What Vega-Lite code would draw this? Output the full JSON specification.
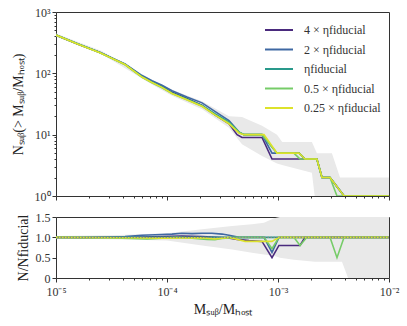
{
 "$schema": "https://vega.github.io/schema/vega-lite/v6.json",
 "padding": {"left": 10, "top": 5, "right": 14, "bottom": 4},
 "spacing": 7,
 "config": {
  "font": "Liberation Serif",
  "view": {"stroke": "#333", "strokeWidth": 1},
  "axis": {"labelFont": "Liberation Serif", "labelFontSize": 12, "labelColor": "#333", "titleFont": "Liberation Serif", "titleFontSize": 14, "titleFontWeight": "normal", "titleColor": "#222", "tickColor": "#333", "domainColor": "#333", "grid": false, "labelPadding": 2, "labelFlush": false, "labelOverlap": false},
  "axisY": {"labelOverlap": false}
 },
 "resolve": {"scale": {"color": "independent"}},
 "datasets": {
  "topband": [
   {"x": 1e-5, "lo": 395, "hi": 445}, {"x": 2.59e-5, "lo": 205, "hi": 232}, {"x": 7.33e-5, "lo": 66, "hi": 78},
   {"x": 1.11e-4, "lo": 43, "hi": 54}, {"x": 2.07e-4, "lo": 26, "hi": 35}, {"x": 3.62e-4, "lo": 13, "hi": 20},
   {"x": 4.74e-4, "lo": 7, "hi": 19.5}, {"x": 7.18e-4, "lo": 4.5, "hi": 14}, {"x": 9.8e-4, "lo": 3.4, "hi": 10},
   {"x": 1.09e-3, "lo": 3.2, "hi": 7.6}, {"x": 2.02e-3, "lo": 2.4, "hi": 7.6}, {"x": 2.24e-3, "lo": 0.5, "hi": 5},
   {"x": 3.06e-3, "lo": 0.5, "hi": 5}, {"x": 3.62e-3, "lo": 0.5, "hi": 2}, {"x": 1e-2, "lo": 0.5, "hi": 2}
  ],
  "botband": [
   {"x": 1e-5, "lo": 0.97, "hi": 1.03}, {"x": 3.2e-5, "lo": 0.95, "hi": 1.05}, {"x": 1e-4, "lo": 0.92, "hi": 1.1},
   {"x": 2.07e-4, "lo": 0.8, "hi": 1.2}, {"x": 3.86e-4, "lo": 0.7, "hi": 1.28}, {"x": 5.83e-4, "lo": 0.62, "hi": 1.32},
   {"x": 7.48e-4, "lo": 0.58, "hi": 1.36}, {"x": 9.2e-4, "lo": 0.55, "hi": 1.47}, {"x": 1.04e-3, "lo": 0.5, "hi": 1.5},
   {"x": 1.39e-3, "lo": 0.45, "hi": 1.5}, {"x": 2.15e-3, "lo": 0.4, "hi": 1.5}, {"x": 3.77e-3, "lo": 0.4, "hi": 1.5},
   {"x": 4.28e-3, "lo": 0, "hi": 1.5}, {"x": 1e-2, "lo": 0, "hi": 1.5}
  ],
  "toplines": [
   {"s": "4 × ηfiducial", "x": 1e-5, "n": 420}, {"s": "4 × ηfiducial", "x": 1.58e-5, "n": 298}, {"s": "4 × ηfiducial", "x": 2.49e-5, "n": 218},
   {"s": "4 × ηfiducial", "x": 4.19e-5, "n": 140}, {"s": "4 × ηfiducial", "x": 5.96e-5, "n": 89}, {"s": "4 × ηfiducial", "x": 7.33e-5, "n": 73},
   {"s": "4 × ηfiducial", "x": 9.02e-5, "n": 61}, {"s": "4 × ηfiducial", "x": 1.11e-4, "n": 49}, {"s": "4 × ηfiducial", "x": 1.51e-4, "n": 39},
   {"s": "4 × ηfiducial", "x": 2.07e-4, "n": 30}, {"s": "4 × ηfiducial", "x": 2.7e-4, "n": 21}, {"s": "4 × ηfiducial", "x": 3.62e-4, "n": 15},
   {"s": "4 × ηfiducial", "x": 4.28e-4, "n": 10}, {"s": "4 × ηfiducial", "x": 4.74e-4, "n": 9}, {"s": "4 × ηfiducial", "x": 7.18e-4, "n": 9},
   {"s": "4 × ηfiducial", "x": 8.83e-4, "n": 4}, {"s": "4 × ηfiducial", "x": 2.24e-3, "n": 4}, {"s": "4 × ηfiducial", "x": 2.49e-3, "n": 2},
   {"s": "4 × ηfiducial", "x": 2.94e-3, "n": 2}, {"s": "4 × ηfiducial", "x": 3.94e-3, "n": 1}, {"s": "4 × ηfiducial", "x": 1e-2, "n": 1},

   {"s": "2 × ηfiducial", "x": 1e-5, "n": 420}, {"s": "2 × ηfiducial", "x": 1.58e-5, "n": 300}, {"s": "2 × ηfiducial", "x": 2.49e-5, "n": 218},
   {"s": "2 × ηfiducial", "x": 4.19e-5, "n": 142}, {"s": "2 × ηfiducial", "x": 5.96e-5, "n": 92}, {"s": "2 × ηfiducial", "x": 7.33e-5, "n": 76},
   {"s": "2 × ηfiducial", "x": 9.02e-5, "n": 64}, {"s": "2 × ηfiducial", "x": 1.11e-4, "n": 52}, {"s": "2 × ηfiducial", "x": 1.51e-4, "n": 41},
   {"s": "2 × ηfiducial", "x": 2.07e-4, "n": 33}, {"s": "2 × ηfiducial", "x": 2.7e-4, "n": 24}, {"s": "2 × ηfiducial", "x": 3.62e-4, "n": 17},
   {"s": "2 × ηfiducial", "x": 4.46e-4, "n": 11}, {"s": "2 × ηfiducial", "x": 4.94e-4, "n": 10}, {"s": "2 × ηfiducial", "x": 7.18e-4, "n": 10},
   {"s": "2 × ηfiducial", "x": 8.83e-4, "n": 5}, {"s": "2 × ηfiducial", "x": 1.55e-3, "n": 5}, {"s": "2 × ηfiducial", "x": 1.75e-3, "n": 4},
   {"s": "2 × ηfiducial", "x": 2.24e-3, "n": 4}, {"s": "2 × ηfiducial", "x": 2.49e-3, "n": 2}, {"s": "2 × ηfiducial", "x": 2.94e-3, "n": 2},
   {"s": "2 × ηfiducial", "x": 3.94e-3, "n": 1}, {"s": "2 × ηfiducial", "x": 1e-2, "n": 1},

   {"s": "ηfiducial", "x": 1e-5, "n": 420}, {"s": "ηfiducial", "x": 1.58e-5, "n": 300}, {"s": "ηfiducial", "x": 2.49e-5, "n": 218},
   {"s": "ηfiducial", "x": 4.19e-5, "n": 140}, {"s": "ηfiducial", "x": 5.96e-5, "n": 88}, {"s": "ηfiducial", "x": 7.33e-5, "n": 72},
   {"s": "ηfiducial", "x": 9.02e-5, "n": 60}, {"s": "ηfiducial", "x": 1.11e-4, "n": 48}, {"s": "ηfiducial", "x": 1.51e-4, "n": 38},
   {"s": "ηfiducial", "x": 2.07e-4, "n": 30}, {"s": "ηfiducial", "x": 2.7e-4, "n": 22}, {"s": "ηfiducial", "x": 3.62e-4, "n": 16},
   {"s": "ηfiducial", "x": 4.46e-4, "n": 11}, {"s": "ηfiducial", "x": 4.94e-4, "n": 10}, {"s": "ηfiducial", "x": 7.18e-4, "n": 10},
   {"s": "ηfiducial", "x": 9.8e-4, "n": 5}, {"s": "ηfiducial", "x": 1.55e-3, "n": 5}, {"s": "ηfiducial", "x": 1.75e-3, "n": 4},
   {"s": "ηfiducial", "x": 2.24e-3, "n": 4}, {"s": "ηfiducial", "x": 2.49e-3, "n": 2}, {"s": "ηfiducial", "x": 2.94e-3, "n": 2},
   {"s": "ηfiducial", "x": 3.94e-3, "n": 1}, {"s": "ηfiducial", "x": 1e-2, "n": 1},

   {"s": "0.5 × ηfiducial", "x": 1e-5, "n": 420}, {"s": "0.5 × ηfiducial", "x": 1.58e-5, "n": 300}, {"s": "0.5 × ηfiducial", "x": 2.49e-5, "n": 216},
   {"s": "0.5 × ηfiducial", "x": 4.19e-5, "n": 138}, {"s": "0.5 × ηfiducial", "x": 5.96e-5, "n": 86}, {"s": "0.5 × ηfiducial", "x": 7.33e-5, "n": 70},
   {"s": "0.5 × ηfiducial", "x": 9.02e-5, "n": 58}, {"s": "0.5 × ηfiducial", "x": 1.11e-4, "n": 47}, {"s": "0.5 × ηfiducial", "x": 1.51e-4, "n": 37},
   {"s": "0.5 × ηfiducial", "x": 2.07e-4, "n": 29}, {"s": "0.5 × ηfiducial", "x": 2.7e-4, "n": 21}, {"s": "0.5 × ηfiducial", "x": 3.62e-4, "n": 15.5},
   {"s": "0.5 × ηfiducial", "x": 4.46e-4, "n": 11}, {"s": "0.5 × ηfiducial", "x": 4.94e-4, "n": 10}, {"s": "0.5 × ηfiducial", "x": 7.18e-4, "n": 10},
   {"s": "0.5 × ηfiducial", "x": 9.8e-4, "n": 5}, {"s": "0.5 × ηfiducial", "x": 1.39e-3, "n": 5}, {"s": "0.5 × ηfiducial", "x": 1.58e-3, "n": 4},
   {"s": "0.5 × ηfiducial", "x": 2.24e-3, "n": 4}, {"s": "0.5 × ηfiducial", "x": 2.49e-3, "n": 2}, {"s": "0.5 × ηfiducial", "x": 2.94e-3, "n": 2},
   {"s": "0.5 × ηfiducial", "x": 3.4e-3, "n": 1}, {"s": "0.5 × ηfiducial", "x": 1e-2, "n": 1},

   {"s": "0.25 × ηfiducial", "x": 1e-5, "n": 420}, {"s": "0.25 × ηfiducial", "x": 1.58e-5, "n": 299}, {"s": "0.25 × ηfiducial", "x": 2.49e-5, "n": 217},
   {"s": "0.25 × ηfiducial", "x": 4.19e-5, "n": 139}, {"s": "0.25 × ηfiducial", "x": 5.96e-5, "n": 87}, {"s": "0.25 × ηfiducial", "x": 7.33e-5, "n": 71},
   {"s": "0.25 × ηfiducial", "x": 9.02e-5, "n": 59}, {"s": "0.25 × ηfiducial", "x": 1.11e-4, "n": 47}, {"s": "0.25 × ηfiducial", "x": 1.51e-4, "n": 37},
   {"s": "0.25 × ηfiducial", "x": 2.07e-4, "n": 29}, {"s": "0.25 × ηfiducial", "x": 2.7e-4, "n": 21}, {"s": "0.25 × ηfiducial", "x": 3.62e-4, "n": 15},
   {"s": "0.25 × ηfiducial", "x": 4.46e-4, "n": 10.5}, {"s": "0.25 × ηfiducial", "x": 4.94e-4, "n": 10}, {"s": "0.25 × ηfiducial", "x": 7.48e-4, "n": 10},
   {"s": "0.25 × ηfiducial", "x": 9.8e-4, "n": 5}, {"s": "0.25 × ηfiducial", "x": 1.55e-3, "n": 5}, {"s": "0.25 × ηfiducial", "x": 1.75e-3, "n": 4},
   {"s": "0.25 × ηfiducial", "x": 2.24e-3, "n": 4}, {"s": "0.25 × ηfiducial", "x": 2.49e-3, "n": 2}, {"s": "0.25 × ηfiducial", "x": 2.94e-3, "n": 2},
   {"s": "0.25 × ηfiducial", "x": 3.94e-3, "n": 1}, {"s": "0.25 × ηfiducial", "x": 1e-2, "n": 1}
  ],
  "ratios": [
   {"s": "4 × ηfiducial", "x": 1e-5, "r": 1.0}, {"s": "4 × ηfiducial", "x": 1.71e-5, "r": 0.99}, {"s": "4 × ηfiducial", "x": 2.59e-5, "r": 1.0},
   {"s": "4 × ηfiducial", "x": 4.19e-5, "r": 1.0}, {"s": "4 × ηfiducial", "x": 5.96e-5, "r": 1.01}, {"s": "4 × ηfiducial", "x": 9.02e-5, "r": 1.02},
   {"s": "4 × ηfiducial", "x": 1.36e-4, "r": 1.03}, {"s": "4 × ηfiducial", "x": 2.07e-4, "r": 1.02}, {"s": "4 × ηfiducial", "x": 2.82e-4, "r": 1.0},
   {"s": "4 × ηfiducial", "x": 3.47e-4, "r": 0.99}, {"s": "4 × ηfiducial", "x": 4.28e-4, "r": 0.95}, {"s": "4 × ηfiducial", "x": 5.48e-4, "r": 0.92},
   {"s": "4 × ηfiducial", "x": 7.18e-4, "r": 0.9}, {"s": "4 × ηfiducial", "x": 8.83e-4, "r": 0.5}, {"s": "4 × ηfiducial", "x": 1.02e-3, "r": 0.8},
   {"s": "4 × ηfiducial", "x": 1.58e-3, "r": 0.8}, {"s": "4 × ηfiducial", "x": 1.75e-3, "r": 1.0}, {"s": "4 × ηfiducial", "x": 1e-2, "r": 1.0},

   {"s": "2 × ηfiducial", "x": 1e-5, "r": 1.0}, {"s": "2 × ηfiducial", "x": 2.59e-5, "r": 1.0}, {"s": "2 × ηfiducial", "x": 4.19e-5, "r": 1.02},
   {"s": "2 × ηfiducial", "x": 5.96e-5, "r": 1.05}, {"s": "2 × ηfiducial", "x": 9.02e-5, "r": 1.07}, {"s": "2 × ηfiducial", "x": 1.11e-4, "r": 1.08},
   {"s": "2 × ηfiducial", "x": 1.36e-4, "r": 1.1}, {"s": "2 × ηfiducial", "x": 1.68e-4, "r": 1.09}, {"s": "2 × ηfiducial", "x": 2.07e-4, "r": 1.1},
   {"s": "2 × ηfiducial", "x": 2.54e-4, "r": 1.1}, {"s": "2 × ηfiducial", "x": 3.13e-4, "r": 1.08}, {"s": "2 × ηfiducial", "x": 3.62e-4, "r": 1.05},
   {"s": "2 × ηfiducial", "x": 4.46e-4, "r": 1.0}, {"s": "2 × ηfiducial", "x": 7.48e-4, "r": 1.0}, {"s": "2 × ηfiducial", "x": 8.83e-4, "r": 0.63},
   {"s": "2 × ηfiducial", "x": 1.02e-3, "r": 1.0}, {"s": "2 × ηfiducial", "x": 1e-2, "r": 1.0},

   {"s": "ηfiducial", "x": 1e-5, "r": 1.0}, {"s": "ηfiducial", "x": 1e-2, "r": 1.0},

   {"s": "0.5 × ηfiducial", "x": 1e-5, "r": 1.0}, {"s": "0.5 × ηfiducial", "x": 2.59e-5, "r": 0.99}, {"s": "0.5 × ηfiducial", "x": 4.84e-5, "r": 0.97},
   {"s": "0.5 × ηfiducial", "x": 6.61e-5, "r": 0.96}, {"s": "0.5 × ηfiducial", "x": 9.02e-5, "r": 0.98}, {"s": "0.5 × ηfiducial", "x": 1.23e-4, "r": 1.0},
   {"s": "0.5 × ηfiducial", "x": 1.68e-4, "r": 0.98}, {"s": "0.5 × ηfiducial", "x": 2.29e-4, "r": 0.95}, {"s": "0.5 × ηfiducial", "x": 2.7e-4, "r": 0.94},
   {"s": "0.5 × ηfiducial", "x": 3.13e-4, "r": 0.97}, {"s": "0.5 × ηfiducial", "x": 4.28e-4, "r": 1.0}, {"s": "0.5 × ηfiducial", "x": 7.48e-4, "r": 1.0},
   {"s": "0.5 × ηfiducial", "x": 8.83e-4, "r": 0.72}, {"s": "0.5 × ηfiducial", "x": 1.02e-3, "r": 1.0}, {"s": "0.5 × ηfiducial", "x": 1.39e-3, "r": 1.0},
   {"s": "0.5 × ηfiducial", "x": 1.58e-3, "r": 0.8}, {"s": "0.5 × ηfiducial", "x": 1.82e-3, "r": 1.0}, {"s": "0.5 × ηfiducial", "x": 2.94e-3, "r": 1.0},
   {"s": "0.5 × ηfiducial", "x": 3.4e-3, "r": 0.5}, {"s": "0.5 × ηfiducial", "x": 3.94e-3, "r": 1.0}, {"s": "0.5 × ηfiducial", "x": 1e-2, "r": 1.0},

   {"s": "0.25 × ηfiducial", "x": 1e-5, "r": 1.0}, {"s": "0.25 × ηfiducial", "x": 4.84e-5, "r": 0.99}, {"s": "0.25 × ηfiducial", "x": 9.02e-5, "r": 0.98},
   {"s": "0.25 × ηfiducial", "x": 2.07e-4, "r": 0.99}, {"s": "0.25 × ηfiducial", "x": 2.7e-4, "r": 0.96}, {"s": "0.25 × ηfiducial", "x": 3.62e-4, "r": 1.0},
   {"s": "0.25 × ηfiducial", "x": 5.05e-4, "r": 0.9}, {"s": "0.25 × ηfiducial", "x": 7.18e-4, "r": 0.9}, {"s": "0.25 × ηfiducial", "x": 8.83e-4, "r": 0.9},
   {"s": "0.25 × ηfiducial", "x": 1.02e-3, "r": 1.0}, {"s": "0.25 × ηfiducial", "x": 1e-2, "r": 1.0}
  ]
 },
 "vconcat": [
  {
   "width": 333, "height": 184,
   "layer": [
    {
     "data": {"name": "topband"},
     "mark": {"type": "area", "color": "#e9e9e9", "clip": true},
     "encoding": {
      "x": {"field": "x", "type": "quantitative", "scale": {"type": "log", "domain": [1e-5, 1e-2]},
            "axis": {"labels": false, "title": null, "domain": false, "tickSize": {"condition": {"test": "abs(log(datum.value)/LN10 - round(log(datum.value)/LN10)) < 1e-6", "value": 4}, "value": 2}}},
      "y": {"field": "lo", "type": "quantitative", "scale": {"type": "log", "domain": [1, 1000]},
            "axis": {"title": "Nₛᵤᵦ(> Mₛᵤᵦ/Mₕₒₛₜ)", "domain": false, "titlePadding": 9,
                     "labelExpr": "abs(log(datum.value)/LN10 - round(log(datum.value)/LN10)) < 1e-6 ? '10' + replace(replace(replace(replace(replace(replace(replace(replace(toString(round(log(datum.value)/LN10)),'-','⁻'),'0','⁰'),'1','¹'),'2','²'),'3','³'),'4','⁴'),'5','⁵'),'6','⁶') : ''",
                     "tickSize": {"condition": {"test": "abs(log(datum.value)/LN10 - round(log(datum.value)/LN10)) < 1e-6", "value": 4}, "value": 2}}},
      "y2": {"field": "hi"}
     }
    },
    {
     "data": {"name": "toplines"},
     "mark": {"type": "line", "strokeWidth": 1.6, "clip": true},
     "encoding": {
      "x": {"field": "x", "type": "quantitative"},
      "y": {"field": "n", "type": "quantitative"},
      "color": {"field": "s", "type": "nominal",
                "scale": {"domain": ["4 × ηfiducial", "2 × ηfiducial", "ηfiducial", "0.5 × ηfiducial", "0.25 × ηfiducial"],
                          "range": ["#4a2a7d", "#3f68a3", "#29998b", "#76cc68", "#dde22b"]},
                "legend": {"orient": "none", "legendX": 215, "legendY": 10, "title": null, "symbolType": "M-2,0H2", "symbolSize": 196, "symbolStrokeWidth": 2,
                           "labelFont": "Liberation Serif", "labelFontSize": 12, "labelColor": "#333", "labelOffset": 17,
                           "rowPadding": 5.5, "padding": 0}}
     }
    }
   ]
  },
  {
   "width": 333, "height": 61,
   "layer": [
    {
     "data": {"name": "botband"},
     "mark": {"type": "area", "color": "#e9e9e9", "clip": true},
     "encoding": {
      "x": {"field": "x", "type": "quantitative", "scale": {"type": "log", "domain": [1e-5, 1e-2]},
            "axis": {"title": "Mₛᵤᵦ/Mₕₒₛₜ", "domain": false, "titlePadding": 5, "labelPadding": 4,
                     "labelExpr": "abs(log(datum.value)/LN10 - round(log(datum.value)/LN10)) < 1e-6 ? '10' + replace(replace(replace(replace(replace(replace(replace(replace(toString(round(log(datum.value)/LN10)),'-','⁻'),'0','⁰'),'1','¹'),'2','²'),'3','³'),'4','⁴'),'5','⁵'),'6','⁶') : ''",
                     "tickSize": {"condition": {"test": "abs(log(datum.value)/LN10 - round(log(datum.value)/LN10)) < 1e-6", "value": 4}, "value": 2}}},
      "y": {"field": "lo", "type": "quantitative", "scale": {"domain": [0, 1.5], "nice": false},
            "axis": {"title": "N/Nfiducial", "domain": false, "values": [0, 0.5, 1, 1.5], "tickSize": 4, "titlePadding": 5, "labelOverlap": false,
                     "labelExpr": "datum.value == 0 ? '0' : format(datum.value, '.1f')"}},
      "y2": {"field": "hi"}
     }
    },
    {
     "data": {"name": "ratios"},
     "mark": {"type": "line", "strokeWidth": 1.6, "clip": true},
     "encoding": {
      "x": {"field": "x", "type": "quantitative"},
      "y": {"field": "r", "type": "quantitative",
            "axis": {"title": "N/Nfiducial", "domain": false, "values": [0, 0.5, 1, 1.5], "tickSize": 4, "titlePadding": 5, "labelOverlap": false,
                     "labelExpr": "datum.value == 0 ? '0' : format(datum.value, '.1f')"}},
      "color": {"field": "s", "type": "nominal", "legend": null,
                "scale": {"domain": ["4 × ηfiducial", "2 × ηfiducial", "ηfiducial", "0.5 × ηfiducial", "0.25 × ηfiducial"],
                          "range": ["#4a2a7d", "#3f68a3", "#29998b", "#76cc68", "#dde22b"]}}
     }
    },
    {
     "data": {"values": [{"v": 1}]},
     "mark": {"type": "rule", "color": "#888", "strokeDash": [1.5, 1.5], "strokeWidth": 1.2},
     "encoding": {"y": {"field": "v", "type": "quantitative",
            "axis": {"title": "N/Nfiducial", "domain": false, "values": [0, 0.5, 1, 1.5], "tickSize": 4, "titlePadding": 5, "labelOverlap": false,
                     "labelExpr": "datum.value == 0 ? '0' : format(datum.value, '.1f')"}}}
    }
   ]
  }
 ]
}
